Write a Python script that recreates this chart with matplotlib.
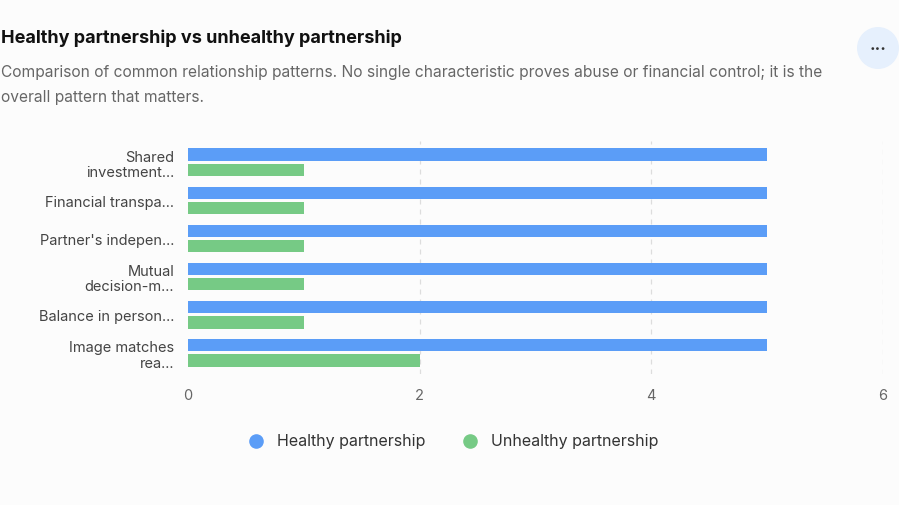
import numpy as np
import matplotlib.pyplot as plt
from matplotlib.patches import Circle

categories = ["Shared\ninvestment...", "Financial transpa...", "Partner's indepen...",
              "Mutual\ndecision-m...", "Balance in person...", "Image matches\nrea..."]
healthy = [5, 5, 5, 5, 5, 5]
unhealthy = [1, 1, 1, 1, 1, 2]
xticks = [0, 2, 4, 6]

BLUE, GREEN, GRAY, INK, BG = "#5B9DF7", "#76CA85", "#666666", "#111111", "#FCFCFC"
plt.rcParams["font.family"] = ["Inter", "DejaVu Sans"]

fig = plt.figure(figsize=(8.99, 5.06), dpi=100, facecolor=BG)
ax = fig.add_axes([0.209, 0.259, 0.773, 0.46], facecolor=BG)

y = np.arange(len(categories))
ax.barh(y - 0.2, healthy, height=0.32, color=BLUE, zorder=3)
ax.barh(y + 0.2, unhealthy, height=0.32, color=GREEN, zorder=3)
ax.set_ylim(len(categories) - 0.45, -0.55)
ax.set_xlim(0, 6)
ax.set_xticks(xticks)
ax.set_xticklabels([str(t) for t in xticks], fontsize=10.5, color=GRAY)
ax.set_yticks(y)
ax.set_yticklabels(categories, fontsize=10.5, color="#444444", linespacing=1.1)
ax.tick_params(length=0, pad=10)
ax.tick_params(axis="y", pad=10)
for s in ax.spines.values():
    s.set_visible(False)
ax.grid(axis="x", color="#DDDDDD", ls=(0, (4, 4)), lw=0.9, zorder=0)
ax.xaxis.grid(True)
for gl, t in zip(ax.get_xgridlines(), xticks):
    if t == 0:
        gl.set_visible(False)

fig.text(0.001, 0.924, "Healthy partnership vs unhealthy partnership", fontsize=13,
         fontweight="bold", color=INK, va="center")
fig.text(0.001, 0.856, "Comparison of common relationship patterns. No single characteristic proves abuse or financial control; it is the",
         fontsize=11.2, color=GRAY, va="center")
fig.text(0.001, 0.808, "overall pattern that matters.", fontsize=11.2, color=GRAY, va="center")

fig.patches.append(Circle((0.977, 0.903), 0.023, transform=fig.transFigure,
                          facecolor="#E6F0FD", edgecolor="none", aspect=None) if False else
                   plt.Circle((878, 457), 21, transform=None, facecolor="#E6F0FD", edgecolor="none"))
fig.text(0.977, 0.903, "···", fontsize=12, color="#333333", ha="center", va="center", fontweight="bold")

h1 = ax.scatter([], [], s=90, color=BLUE)
h2 = ax.scatter([], [], s=90, color=GREEN)
fig.legend([h1, h2], ["Healthy partnership", "Unhealthy partnership"], loc="center",
           bbox_to_anchor=(0.5, 0.128), ncol=2, frameon=False, fontsize=11.5,
           handletextpad=0.3, columnspacing=1.8, labelcolor="#333333")

fig.savefig("out.png", dpi=100, facecolor=BG)
